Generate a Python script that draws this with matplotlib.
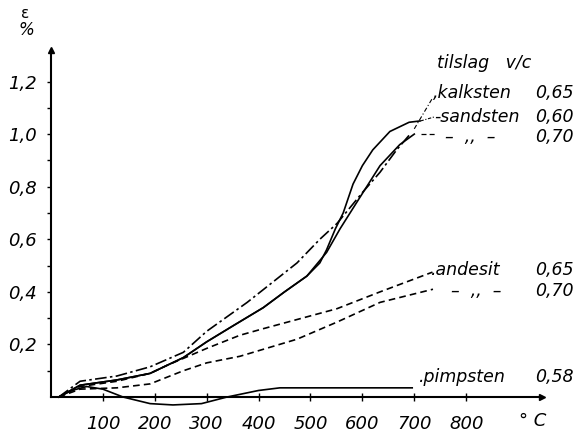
import matplotlib
matplotlib.use("Agg")
import matplotlib.pyplot as plt

# ---- data (temperature in °C, strain in %) ----
kalk_x = [15, 56, 127, 191, 255, 300, 378, 474, 518, 551, 601, 634, 666, 692]
kalk_y = [0, 0.06, 0.08, 0.115, 0.17, 0.25, 0.36, 0.51, 0.60, 0.66, 0.78, 0.855, 0.94, 1.0]

sand60_x = [15, 56, 127, 191, 255, 300, 350, 409, 450, 493, 518, 531, 548, 563, 582, 600, 620, 653, 690, 711]
sand60_y = [0, 0.045, 0.065, 0.09, 0.15, 0.21, 0.27, 0.34, 0.40, 0.46, 0.51, 0.56, 0.64, 0.70, 0.81, 0.88, 0.94, 1.01, 1.045, 1.05]

sand70_x = [15, 56, 127, 191, 255, 300, 350, 409, 450, 493, 531, 557, 589, 634, 672, 700]
sand70_y = [0, 0.045, 0.065, 0.09, 0.15, 0.21, 0.27, 0.34, 0.40, 0.46, 0.55, 0.64, 0.74, 0.88, 0.96, 1.0]

and65_x = [15, 56, 127, 191, 223, 300, 364, 409, 551, 634, 735]
and65_y = [0, 0.04, 0.06, 0.09, 0.12, 0.185, 0.235, 0.26, 0.336, 0.40, 0.475]

and70_x = [15, 56, 127, 191, 255, 300, 364, 474, 551, 634, 736]
and70_y = [0, 0.03, 0.035, 0.05, 0.10, 0.13, 0.155, 0.22, 0.285, 0.36, 0.41]

pimp_x = [15, 40, 69, 100, 139, 191, 235, 290, 339, 400, 441, 500, 600, 696]
pimp_y = [0, 0.025, 0.04, 0.03, 0, -0.025, -0.03, -0.025, 0, 0.025, 0.035, 0.035, 0.035, 0.035]

xticks = [100, 200, 300, 400, 500, 600, 700, 800]
yticks = [0.2, 0.4, 0.6, 0.8, 1.0, 1.2]
ytick_labels = ["0,2", "0,4", "0,6", "0,8", "1,0", "1,2"]

# ---- figure ----
fig = plt.figure(figsize=(5.82, 4.33), dpi=100)
ax = fig.add_axes([0.0876, 0.0466, 0.8436, 0.838])
ax.set_xlim(0, 946)
ax.set_ylim(-0.06, 1.32)

lw = 1.2
ax.plot(kalk_x, kalk_y, color="black", lw=lw, dashes=(7, 2, 1.5, 2))
ax.plot(sand60_x, sand60_y, color="black", lw=lw)
ax.plot(sand70_x, sand70_y, color="black", lw=lw)
ax.plot(and65_x, and65_y, color="black", lw=lw, dashes=(4, 2.5))
ax.plot(and70_x, and70_y, color="black", lw=lw, dashes=(4, 2.5))
ax.plot(pimp_x, pimp_y, color="black", lw=lw)

# leaders
ax.plot([700, 736], [1.02, 1.14], color="black", lw=0.8, dashes=(4, 2, 1, 2))
ax.plot([712, 738], [1.05, 1.065], color="black", lw=0.8, dashes=(3, 1.5, 1, 1.5))
ax.plot([712, 744], [1.0, 1.0], color="black", lw=0.9, dashes=(4, 2.5))

# spines
for s in ["top", "right"]:
    ax.spines[s].set_visible(False)
ax.spines["bottom"].set_position(("data", 0))
ax.spines["left"].set_bounds(0, 1.32)
ax.spines["left"].set_linewidth(1.5)
ax.spines["bottom"].set_linewidth(1.5)
ax.plot(1, 0, ">k", transform=ax.get_yaxis_transform(), clip_on=False, ms=5)
ax.plot(0, 1, "^k", transform=ax.get_xaxis_transform(), clip_on=False, ms=5)

tfont = dict(family="DejaVu Sans", style="italic", size=13)
ax.set_xticks(xticks)
ax.set_xticklabels([str(v) for v in xticks], **tfont)
ax.set_yticks(yticks)
ax.set_yticklabels(ytick_labels, **tfont)
ax.set_yticks([0.1, 0.3, 0.5, 0.7, 0.9, 1.1], minor=True)
ax.tick_params(axis="x", direction="inout", length=6, width=1, pad=10)
ax.tick_params(axis="y", which="both", direction="out", length=3, width=1, pad=7)

ax.text(928, -0.09, "° C", ha="center", va="center", **tfont)
fig.text(0.043, 0.968, "ε", ha="center", va="center", family="DejaVu Sans", size=11)
fig.text(0.046, 0.93, "%", ha="center", va="center", family="DejaVu Sans", style="italic", size=12)

lfont = dict(family="DejaVu Sans", style="italic", size=12.5)
rx = 1008
ax.text(744, 1.27, "tilslag   v/c", ha="left", va="center", clip_on=False, **lfont)
rows = [
    (736, 1.156, ",kalksten", "0,65"),
    (738, 1.065, "-sandsten", "0,60"),
    (760, 0.99, "–  ,,  –", "0,70"),
    (733, 0.483, ".andesit", "0,65"),
    (770, 0.405, "–  ,,  –", "0,70"),
    (709, 0.076, ".pimpsten", "0,58"),
]
for x, y, name, val in rows:
    ax.text(x, y, name, ha="left", va="center", clip_on=False, **lfont)
    ax.text(rx, y, val, ha="right", va="center", clip_on=False, **lfont)

fig.savefig("out.png", dpi=100)
